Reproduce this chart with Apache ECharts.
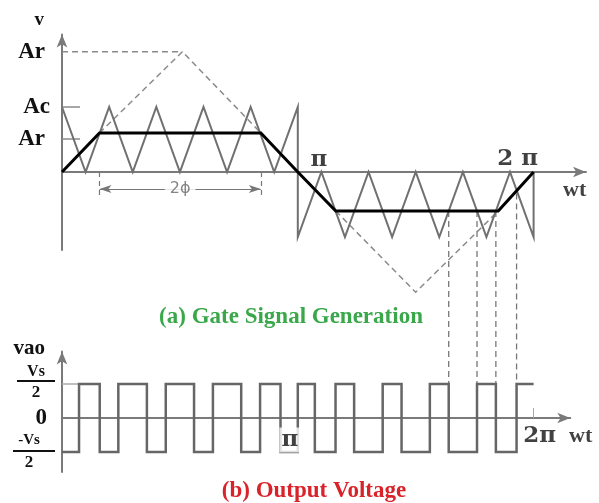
<!DOCTYPE html>
<html><head><meta charset="utf-8">
<script src="https://cdn.jsdelivr.net/npm/echarts@6/dist/echarts.min.js"></script>
<style>html,body{margin:0;padding:0;background:#fff}#c{width:599px;height:503px}</style>
</head><body><div id="c"></div>
<script>
// ---------- data (angles in degrees, 180 = π, 360 = 2π) ----------
const carrierX = [0,18,36,54,72,90,108,126,144,162,180,180,198,216,234,252,270,288,306,324,342,360,360];
const carrierY = [1,0,1,0,1,0,1,0,1,0,1,-1,0,-1,0,-1,0,-1,0,-1,0,-1,0];
const refX = [0,28.6,151.8,180,209,333,360];
const refY = [0,0.6,0.6,0,-0.6,-0.6,0];
const triPosX = [28.6,91.9,151.8];
const triPosY = [0.6,1.85,0.6];
const triNegX = [209,270,333];
const triNegY = [-0.6,-1.85,-0.6];
const peakLevel = 1.85;
const phiX = [28.6,151.8];
const phiDrop = -0.385;
const phiArrowY = -0.26;
const edgesX = [13,28.8,43,64.8,79.2,100.8,115.2,136.8,151.2,166.8,180,193,208.8,223,244.8,259.2,280.8,295.2,316.8,331.2,347];
const waveEnd = 360;
const vHigh = 0.5, vLow = -0.5;
const connX = [295.2,316.8,331.2,347];
const connY = [-0.6,-0.6,-0.6,-0.33];
const topLabelVals = [1.85,1,0.51];
const topLabelText = ['Ar','Ac','Ar'];
const topTickVals = [1,0.51];
const botLabelVals = [0.5,0,-0.5];

// ---------- layout ----------
const PXD = 1.31;          // px per degree
const LEFT = 62;
const topXMax = 400, botXMax = 388;
const serif = '"Liberation Serif", "Times New Roman", serif';

const zip = (xs, ys) => xs.map((x, i) => [x, ys[i]]);
const wave = [[0, vLow]];
let lvl = vLow;
edgesX.forEach(e => { wave.push([e, lvl]); lvl = (lvl === vLow ? vHigh : vLow); wave.push([e, lvl]); });
wave.push([waveEnd, lvl]);

const axisCol = '#7a7a7a';
const baseAxis = {
  type: 'value', splitLine: {show: false}, axisTick: {show: false}, axisLabel: {show: false},
  axisLine: {symbol: ['none', 'arrow'], symbolSize: [8, 13], lineStyle: {color: axisCol, width: 2}}
};
const lineS = (xi, data, color, width, type, z) => ({
  type: 'line', xAxisIndex: xi, yAxisIndex: xi, data, symbol: 'none', silent: true, z: z || 2, clip: false,
  lineStyle: {color, width, type: type || 'solid', join: 'miter', cap: 'butt'}, animation: false
});
function lab(x, y, text, dx, dy, extra) {
  return {value: [x, y], label: Object.assign({show: true, formatter: text, offset: [dx, dy]}, extra || {})};
}
const piStyle = {fontFamily: '"DejaVu Serif", serif', fontWeight: 'bold', fontSize: 23, color: '#111'};
const wtStyle = {fontFamily: serif, fontWeight: 'bold', fontSize: 22, color: '#111'};
const phiStyle = {fontFamily: '"DejaVu Sans", sans-serif', fontSize: 16, color: '#666', backgroundColor: '#fff', padding: [0, 5]};

const chart = echarts.init(document.getElementById('c'), null, {renderer: 'canvas'});
const option = {
  animation: false,
  backgroundColor: '#fff',
  grid: [
    {left: LEFT, top: 34.5, width: topXMax * PXD, height: 250 - 34.5, containLabel: false, outerBoundsMode: 'none'},
    {left: LEFT, top: 351.5, width: botXMax * PXD, height: 472 - 351.5, containLabel: false, outerBoundsMode: 'none'}
  ],
  xAxis: [
    Object.assign({}, baseAxis, {gridIndex: 0, min: 0, max: topXMax}),
    Object.assign({}, baseAxis, {gridIndex: 1, min: 0, max: botXMax,
      axisTick: {show: true, inside: true, length: 10, customValues: [360], lineStyle: {color: '#aaa', width: 1}}})
  ],
  yAxis: [
    Object.assign({}, baseAxis, {gridIndex: 0, min: -1.2, max: 2.115,
      axisLine: Object.assign({}, baseAxis.axisLine, {onZero: false}),
      name: 'v', nameLocation: 'end', nameGap: 14,
      nameTextStyle: {fontFamily: serif, fontWeight: 'bold', fontSize: 19, color: '#111', align: 'right', verticalAlign: 'middle', padding: [0, 18, 0, 0]},
      axisTick: {show: true, inside: true, length: 18, customValues: topTickVals, lineStyle: {color: '#8a8a8a', width: 1.5}},
      axisLabel: {show: true, customValues: topLabelVals, margin: 12,
        formatter: v => { const t = topLabelText[topLabelVals.indexOf(v)]; return t === 'Ar' ? '{r|' + t + '}' : '{c|' + t + '}'; },
        rich: {
          r: {fontFamily: serif, fontWeight: 'bold', fontSize: 23, color: '#111', padding: [0, 5, 0, 0]},
          c: {fontFamily: serif, fontWeight: 'bold', fontSize: 23, color: '#111'}
        }}
    }),
    Object.assign({}, baseAxis, {gridIndex: 1, min: -0.794, max: 0.978,
      axisLine: Object.assign({}, baseAxis.axisLine, {onZero: false}),
      name: 'vao', nameLocation: 'end', nameGap: 3,
      nameTextStyle: {fontFamily: serif, fontWeight: 'bold', fontSize: 21, color: '#111', align: 'right', verticalAlign: 'middle', padding: [0, 17, 0, 0]},
      axisTick: {show: true, inside: true, length: 16, customValues: [vHigh, vLow], lineStyle: {color: '#aaa', width: 1.5}},
      axisLabel: {show: true, customValues: botLabelVals, margin: 7,
        formatter: v => v > 0 ? '{n|Vs}\n{l| }\n{d|2}' : (v < 0 ? '{n2|-Vs}\n{l2| }\n{d2|2}' : '{z|0}'),
        rich: {
          n: {fontFamily: serif, fontWeight: 'bold', fontSize: 16, lineHeight: 16, width: 38, align: 'center', color: '#111'},
          l: {fontSize: 1, width: 38, height: 2, lineHeight: 2, backgroundColor: '#111'},
          d: {fontFamily: serif, fontWeight: 'bold', fontSize: 17, lineHeight: 22, width: 38, align: 'center', color: '#111'},
          n2: {fontFamily: serif, fontWeight: 'bold', fontSize: 15, lineHeight: 20, width: 32, align: 'center', color: '#111', padding: [0, 10, 0, 0]},
          l2: {fontSize: 1, width: 32, height: 2, lineHeight: 2, backgroundColor: '#111', padding: [0, 10, 0, 0]},
          d2: {fontFamily: serif, fontWeight: 'bold', fontSize: 17, lineHeight: 22, width: 32, align: 'center', color: '#111', padding: [0, 10, 0, 0]},
          z: {fontFamily: serif, fontWeight: 'bold', fontSize: 23, color: '#111', padding: [0, 8, 0, 0]}
        }}
    })
  ],
  series: [
    Object.assign(lineS(0, [[0, peakLevel], [triPosX[1], peakLevel]], '#8a8a8a', 1.5, [6, 4], 1), {
      markLine: {
        silent: true, animation: false, symbol: ['none', 'none'], symbolSize: [6, 12],
        lineStyle: {color: '#777', width: 1.2, type: [5, 4]},
        label: {show: false},
        data: [
          [{coord: [phiX[0], 0]}, {coord: [phiX[0], phiDrop]}],
          [{coord: [phiX[1], 0]}, {coord: [phiX[1], phiDrop]}],
          [{coord: [phiX[0], phiArrowY], symbol: 'arrow', lineStyle: {type: 'solid', width: 1.2, color: '#777'}},
           {coord: [phiX[1], phiArrowY], symbol: 'arrow'}]
        ]
      }
    }),
    lineS(0, zip(triPosX, triPosY), '#8a8a8a', 1.5, [6, 4], 1),
    lineS(0, zip(triNegX, triNegY), '#8a8a8a', 1.5, [6, 4], 1),
    lineS(0, zip(carrierX, carrierY), '#707070', 2, 'solid', 2),
    lineS(0, zip(refX, refY), '#000', 3, 'solid', 3),
    {
      type: 'scatter', xAxisIndex: 0, yAxisIndex: 0, symbolSize: 1, itemStyle: {color: 'rgba(0,0,0,0)'},
      silent: true, clip: false, z: 5,
      label: {show: true, position: 'inside', align: 'center', verticalAlign: 'middle'},
      data: [
        lab(180, 0, 'π', 21, -12, piStyle),
        lab(360, 0, '2 π', -16, -13, piStyle),
        lab(360, 0, 'wt', 41, 18, wtStyle),
        lab((phiX[0] + phiX[1]) / 2, phiArrowY, '2\u03D5', 0, 0, phiStyle)
      ]
    },
    lineS(1, wave, '#666', 2.5, 'solid', 2),
    {
      type: 'scatter', xAxisIndex: 1, yAxisIndex: 1, symbolSize: 1, itemStyle: {color: 'rgba(0,0,0,0)'},
      silent: true, clip: false, z: 5,
      label: {show: true, position: 'inside', align: 'center', verticalAlign: 'middle'},
      data: [
        lab(180, 0, 'π', -8, 22, Object.assign({}, piStyle, {backgroundColor: '#fff', padding: [1, 2]})),
        lab(360, 0, '2π', 6, 18, piStyle),
        lab(360, 0, 'wt', 47, 18, wtStyle)
      ]
    }
  ]
};
chart.setOption(option);

const conn = connX.map((x, i) => {
  const p1 = chart.convertToPixel({gridIndex: 0}, [x, connY[i]]);
  const p2 = chart.convertToPixel({gridIndex: 1}, [x, vHigh]);
  return {type: 'line', silent: true, z: 1, shape: {x1: p1[0], y1: p1[1], x2: p2[0], y2: p2[1]},
          style: {stroke: '#777', lineWidth: 1.3, lineDash: [6, 4]}};
});
chart.setOption({
  graphic: conn.concat([
    {type: 'text', x: 291, y: 317, silent: true,
     style: {text: '(a) Gate Signal Generation', font: 'bold 23px ' + serif, fill: '#3aa84a', textAlign: 'center', textVerticalAlign: 'middle', align: 'center', verticalAlign: 'middle'}},
    {type: 'text', x: 314, y: 491, silent: true,
     style: {text: '(b) Output Voltage', font: 'bold 23px ' + serif, fill: '#d8232a', textAlign: 'center', textVerticalAlign: 'middle', align: 'center', verticalAlign: 'middle'}}
  ])
});
</script>
</body></html>
